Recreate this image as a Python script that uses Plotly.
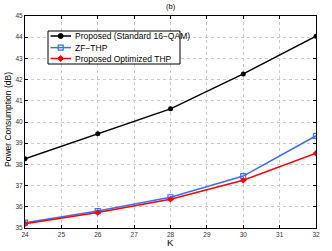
import plotly.graph_objects as go

K = [24, 26, 28, 30, 32]
proposed_16qam = [38.27, 39.45, 40.62, 42.27, 44.05]
zf_thp = [35.25, 35.8, 36.45, 37.45, 39.35]
proposed_opt_thp = [35.2, 35.73, 36.36, 37.25, 38.53]
series_names = ["Proposed (Standard 16\u2212QAM)", "ZF\u2212THP", "Proposed Optimized THP"]
series_colors = ["black", "#3d6ef2", "#ff0000"]

x_ticks = list(range(24, 33))
y_ticks = list(range(35, 46))

# plot area in pixels
L, R, T, B = 25, 316, 16, 228
W, H = 332, 251
PW, PH = R - L, B - T


def px(xp):
    return (xp - L) / PW


def py(yp):
    return (B - yp) / PH


fig = go.Figure()
fig.add_trace(go.Scatter(x=K, y=proposed_16qam, mode="lines+markers", name=series_names[0],
                         line=dict(color=series_colors[0], width=1.5),
                         marker=dict(symbol="circle", size=5, color=series_colors[0])))
fig.add_trace(go.Scatter(x=K, y=zf_thp, mode="lines+markers", name=series_names[1],
                         line=dict(color=series_colors[1], width=1.5),
                         marker=dict(symbol="square-open", size=5, color=series_colors[1],
                                     line=dict(width=1.2))))
fig.add_trace(go.Scatter(x=K, y=proposed_opt_thp, mode="lines+markers", name=series_names[2],
                         line=dict(color=series_colors[2], width=1.5),
                         marker=dict(symbol="diamond", size=5, color=series_colors[2])))

axis_common = dict(showline=True, linecolor="black", linewidth=1, mirror="ticks",
                   ticks="inside", ticklen=3, tickcolor="black",
                   showgrid=True, gridcolor="#c8c8c8", griddash="dot", gridwidth=1,
                   zeroline=False, tickfont=dict(size=6.5, color="#333333"),
                   automargin=False)

fig.update_xaxes(range=[24, 32], tickvals=x_ticks, ticktext=[str(v) for v in x_ticks],
                 **axis_common)
fig.update_yaxes(range=[35, 45], tickvals=y_ticks, ticktext=[str(v) for v in y_ticks],
                 **axis_common)

shapes = []
annotations = [
    dict(text="(b)", x=0.5, y=py(7), xref="paper", yref="paper", showarrow=False,
         xanchor="center", yanchor="middle", font=dict(size=7.5, color="black")),
    dict(text="K", x=0.5, y=py(243), xref="paper", yref="paper", showarrow=False,
         xanchor="center", yanchor="middle", font=dict(size=9.5, color="black")),
    dict(text="Power Consumption (dB)", x=px(8), y=py(120), xref="paper", yref="paper",
         showarrow=False, textangle=-90, xanchor="center", yanchor="middle",
         font=dict(size=8.5, color="black")),
]

# manual legend box
shapes.append(dict(type="rect", xref="paper", yref="paper", x0=px(48), x1=px(180),
                   y0=py(64), y1=py(31), line=dict(color="black", width=1),
                   fillcolor="white", layer="above"))
row_y = [36.0, 47.6, 58.5]
for i, (name, col) in enumerate(zip(series_names, series_colors)):
    yy = py(row_y[i])
    shapes.append(dict(type="line", xref="paper", yref="paper", x0=px(50.5), x1=px(71),
                       y0=yy, y1=yy, line=dict(color=col, width=1.5), layer="above"))
    mx = px(60.7)
    if i == 0:
        shapes.append(dict(type="circle", xref="paper", yref="paper", xsizemode="pixel",
                           ysizemode="pixel", xanchor=mx, yanchor=yy,
                           x0=-2.5, x1=2.5, y0=-2.5, y1=2.5,
                           fillcolor=col, line=dict(color=col, width=1), layer="above"))
    elif i == 1:
        shapes.append(dict(type="rect", xref="paper", yref="paper", xsizemode="pixel",
                           ysizemode="pixel", xanchor=mx, yanchor=yy,
                           x0=-2.5, x1=2.5, y0=-2.5, y1=2.5,
                           fillcolor="rgba(0,0,0,0)", line=dict(color=col, width=1.2),
                           layer="above"))
    else:
        shapes.append(dict(type="path", xref="paper", yref="paper", xsizemode="pixel",
                           ysizemode="pixel", xanchor=mx, yanchor=yy,
                           path="M 0 3 L 3 0 L 0 -3 L -3 0 Z",
                           fillcolor=col, line=dict(color=col, width=1), layer="above"))
    annotations.append(dict(text=name, x=px(72.5), y=yy, xref="paper", yref="paper",
                            showarrow=False, xanchor="left", yanchor="middle",
                            font=dict(size=8.5, color="black")))

fig.update_layout(
    width=W, height=H,
    margin=dict(l=L, r=W - R, t=T, b=H - B, autoexpand=False),
    paper_bgcolor="white", plot_bgcolor="white",
    font=dict(family="Liberation Sans, Arial, sans-serif", size=7, color="black"),
    showlegend=False,
    shapes=shapes,
    annotations=annotations,
)

fig.write_html("out.html", config={"displayModeBar": False, "staticPlot": True},
               post_script="document.body.style.margin='0';document.body.style.overflow='hidden';")
